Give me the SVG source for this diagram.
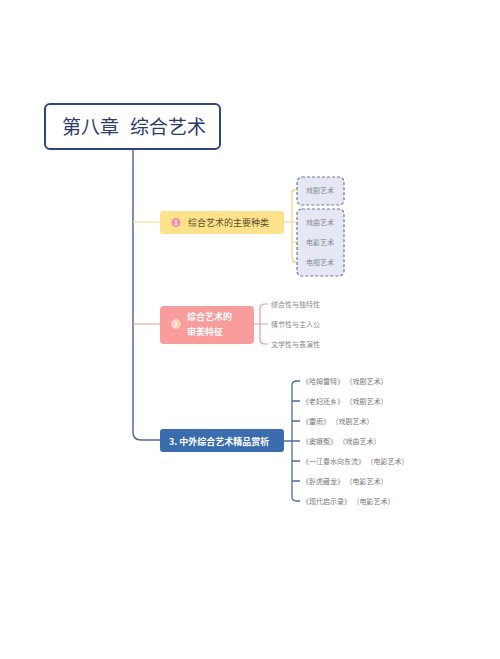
<svg xmlns="http://www.w3.org/2000/svg" width="500" height="659" viewBox="0 0 500 659">
<style>
text{font-family:"Noto Sans CJK SC","Noto Sans",sans-serif}
.leaf{font-size:7px;fill:#8a8a8a}
.leaf3{font-size:7px;fill:#7a7a7a}
.dash{fill:#e5e7f5;stroke:#6f76a0;stroke-width:1.2;stroke-dasharray:3 2}
</style>
<rect width="500" height="659" fill="#ffffff"/>
<g id="connectors" fill="none">
<path d="M133 148 V432 Q133 440 141 440 H160" stroke="#5a6793" stroke-width="1.5"/>
<path d="M133 222 H160" stroke="#f8e2a0" stroke-width="1.2"/>
<path d="M133 324 H160" stroke="#e8a6b0" stroke-width="1.2"/>
<path d="M284 222 H292 M292 195 V256 M292 190 Q292 190 292 195 M292 190 H297 M292 222 H297 M292 242 H297 M292 262 H297 M292 256 Q292 262 297 262 M292 195 Q292 190 297 190" stroke="#f4d68a" stroke-width="1.2"/>
<path d="M254 324 H260 M260 308 V340 M260 308 Q260 304 265 304 H268 M260 324 H268 M260 340 Q260 344 265 344 H268" stroke="#e49aa8" stroke-width="1.2"/>
<path d="M284 441 H292 M292 385 V497 M292 385 Q292 381 297 381 H300 M292 401 H300 M292 421 H300 M292 441 H300 M292 461 H300 M292 481 H300 M292 497 Q292 501 297 501 H300" stroke="#4e6aa3" stroke-width="1.3"/>
</g>
<g id="title">
<rect x="45" y="104" width="175" height="45" rx="5" fill="#ffffff" stroke="#2f437c" stroke-width="2"/>
<text x="62" y="134" font-size="19" fill="#2b3a6b">第八章</text>
<text x="130" y="134" font-size="19" fill="#2b3a6b">综合艺术</text>
</g>
<g id="node1">
<rect x="160" y="211" width="124" height="23" rx="3" fill="#fde28c"/>
<circle cx="176" cy="222.5" r="4.5" fill="#f58fa8"/>
<text x="176" y="225" font-size="6" fill="#ffffff" text-anchor="middle" font-weight="bold">1</text>
<text x="188" y="226" font-size="9" fill="#5a4a2a">综合艺术的主要种类</text>
</g>
<g id="node1-children">
<rect class="dash" x="297" y="177" width="47" height="28" rx="5"/>
<text class="leaf" x="306" y="193">戏剧艺术</text>
<rect class="dash" x="297" y="209" width="47" height="67" rx="5"/>
<text class="leaf" x="306" y="225">戏曲艺术</text>
<text class="leaf" x="306" y="245">电影艺术</text>
<text class="leaf" x="306" y="265">电视艺术</text>
</g>
<g id="node2">
<rect x="160" y="306" width="94" height="38" rx="4" fill="#f89c9c"/>
<circle cx="176" cy="324" r="5" fill="#fbd3c0" opacity="0.9"/>
<text x="176" y="326.5" font-size="6.5" fill="#ffffff" text-anchor="middle" font-weight="bold">2</text>
<text x="187" y="320" font-size="9" fill="#ffffff" font-weight="bold">综合艺术的</text>
<text x="187" y="335" font-size="9" fill="#ffffff" font-weight="bold">审美特征</text>
</g>
<g id="node2-children">
<text class="leaf" x="271" y="307">综合性与独特性</text>
<text class="leaf" x="271" y="327">情节性与主人公</text>
<text class="leaf" x="271" y="347">文学性与表演性</text>
</g>
<g id="node3">
<rect x="160" y="429" width="124" height="23" rx="3" fill="#3a6cae"/>
<text x="169" y="444.5" font-size="9" fill="#ffffff" font-weight="bold">3. 中外综合艺术精品赏析</text>
</g>
<g id="node3-children">
<text class="leaf3" x="302" y="384" xml:space="preserve">《哈姆雷特》 （戏剧艺术）</text>
<text class="leaf3" x="302" y="404" xml:space="preserve">《老妇还乡》 （戏剧艺术）</text>
<text class="leaf3" x="302" y="424" xml:space="preserve">《雷雨》 （戏剧艺术）</text>
<text class="leaf3" x="302" y="444" xml:space="preserve">《窦娥冤》 （戏曲艺术）</text>
<text class="leaf3" x="302" y="464" xml:space="preserve">《一江春水向东流》 （电影艺术）</text>
<text class="leaf3" x="302" y="484" xml:space="preserve">《卧虎藏龙》 （电影艺术）</text>
<text class="leaf3" x="302" y="504" xml:space="preserve">《现代启示录》 （电影艺术）</text>
</g>
</svg>
